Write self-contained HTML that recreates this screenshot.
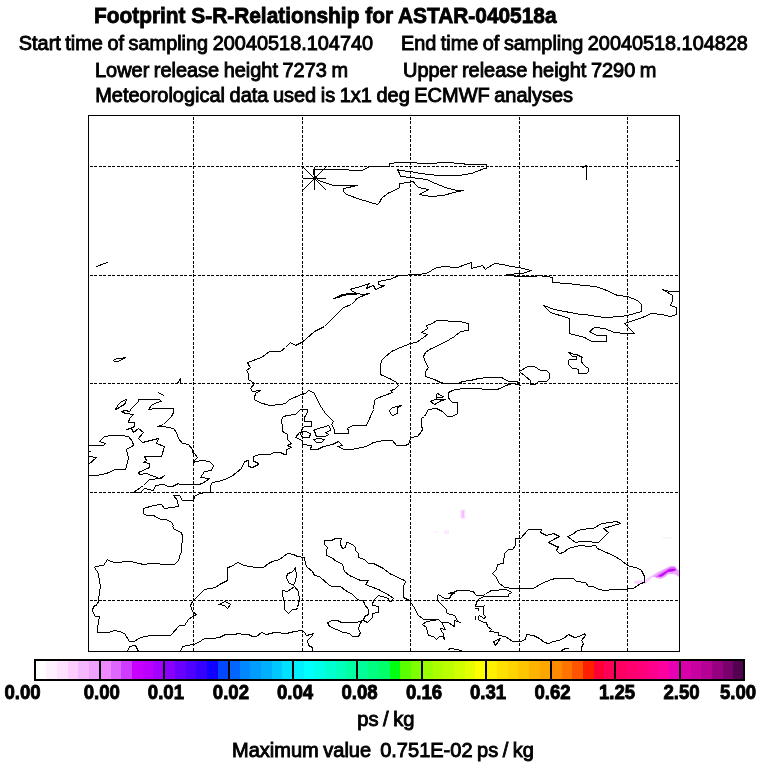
<!DOCTYPE html>
<html><head><meta charset="utf-8"><style>
html,body{margin:0;padding:0;background:#fff;width:768px;height:768px;overflow:hidden}
svg{display:block}
text{font-family:"Liberation Sans",Arial,sans-serif;fill:#000}
</style></head><body>
<svg width="768" height="768" viewBox="0 0 768 768">
<rect width="768" height="768" fill="#fff"/>
<g font-size="21.4" font-weight="bold" stroke="#000" stroke-width="0.8"><text x="94" y="23" textLength="462.5" lengthAdjust="spacingAndGlyphs">Footprint S-R-Relationship for ASTAR-040518a</text></g>
<g font-size="20" stroke="#000" stroke-width="0.9" word-spacing="-1">
<text x="18.8" y="49.8" textLength="354.3" lengthAdjust="spacingAndGlyphs">Start time of sampling 20040518.104740</text>
<text x="401" y="49.8" textLength="346.8" lengthAdjust="spacingAndGlyphs">End time of sampling 20040518.104828</text>
<text x="95" y="76.6" textLength="253" lengthAdjust="spacingAndGlyphs">Lower release height 7273 m</text>
<text x="403" y="76.6" textLength="253.5" lengthAdjust="spacingAndGlyphs">Upper release height 7290 m</text>
<text x="95.2" y="101.6" textLength="477.8" lengthAdjust="spacingAndGlyphs">Meteorological data used is 1x1 deg ECMWF analyses</text>
</g>
<!-- footprint -->
<defs><filter id="bl" x="-20%" y="-50%" width="140%" height="200%"><feGaussianBlur stdDeviation="0.55"/></filter></defs>
<g id="fp" filter="url(#bl)">
<rect x="460.5" y="509.5" width="5" height="9.5" fill="#FBE2FF"/>
<rect x="461.5" y="510.5" width="2.5" height="7" fill="#F6BEFF"/>
<rect x="433.5" y="531.5" width="4" height="1.5" fill="#FDEBFF"/>
<rect x="444" y="530.5" width="5" height="3.5" fill="#FDE8FF"/>
<rect x="662" y="537.5" width="11" height="1.2" fill="#FDEEFF"/>
<path d="M634,581 L640,580.2 L644.5,580.8 L651,575.5 L653.5,576.5 L646,583.5 L640,584.2 L634,583.6 Z" fill="#F9D3FF"/>
<path d="M651.5,576.3 L657.3,572.4 L662.5,569.8 L667.8,567.2 L671.7,565.8 L675,566.2 L677,569 L679,570.5 L679,577 L675.6,574.5 L671.7,574 L667.8,574.5 L665.2,577 L661.25,578.8 L657.3,578.5 L654.7,577.2 Z" fill="#EDA8FF"/>
<path d="M655.5,576.8 L660,573.5 L666,570 L671,567.3 L675,567.3 L676.8,570 L673,571.8 L668,572.2 L665,574.8 L661,577.3 Z" fill="#DA5CFF"/>
<path d="M658,576.3 L662,574 L666.5,571.2 L668.5,569.4 L674,568.8 L676,570.3 L672,571.2 L668,571.7 L665,573.9 L661.5,576.4 Z" fill="#C000F2"/>
</g>
<g fill="none" stroke="#000" stroke-width="1" stroke-dasharray="3 1.5" shape-rendering="crispEdges">
<line x1="193.5" y1="116.5" x2="193.5" y2="651"/>
<line x1="302.5" y1="116.5" x2="302.5" y2="651"/>
<line x1="410.5" y1="116.5" x2="410.5" y2="651"/>
<line x1="519.5" y1="116.5" x2="519.5" y2="651"/>
<line x1="627.5" y1="116.5" x2="627.5" y2="651"/>
<line x1="89.5" y1="166.5" x2="679" y2="166.5"/>
<line x1="89.5" y1="275.5" x2="679" y2="275.5"/>
<line x1="89.5" y1="383.5" x2="679" y2="383.5"/>
<line x1="89.5" y1="492.5" x2="679" y2="492.5"/>
<line x1="89.5" y1="600.5" x2="679" y2="600.5"/>
</g>
<g fill="none" stroke="#000" stroke-width="1" stroke-linejoin="round" stroke-linecap="round" shape-rendering="crispEdges">
<path d="M313.5,174.5 L313.5,169.5 L343.5,169.5 L353.5,170.5 L362.5,170.5 L369.5,166.5 L389.5,166.5 L389.5,163.5 L399.5,162.5 L414.5,162.5 L419.5,163.5 L431.5,163.5 L443.5,162.5 L463.5,163.5 L465.5,164.5 L484.5,164.5 L486.5,164.5 L486.5,168.5 L484.5,168.5 L471.5,173.5 L458.5,175.5 L438.5,175.5 L420.5,173.5 L410.5,171.5 L399.5,170.5 L397.5,169.5 L399.5,173.5 L400.5,176.5 L410.5,177.5 L426.5,179.5 L435.5,183.5 L445.5,187.5 L456.5,190.5 L463.5,190.5 L453.5,192.5 L443.5,195.5 L430.5,196.5 L419.5,194.5 L428.5,189.5 L418.5,187.5 L414.5,183.5 L413.5,181.5 L408.5,182.5 L399.5,183.5 L399.5,187.5 L396.5,189.5 L387.5,193.5 L381.5,198.5 L379.5,202.5 L377.5,204.5 L360.5,199.5 L346.5,194.5 L343.5,191.5 L343.5,188.5 L357.5,185.5 L333.5,185.5 L318.5,180.5 Z"/>
<path d="M582.5,167.5 L586.5,165.5 L586.5,179.5"/>
<path d="M676.5,160.5 L679.5,160.5"/>
<path d="M96.5,266.5 L107.5,262.5"/>
<path d="M113.5,360.5 L116.5,358.5 L121.5,358.5 L125.5,357.5 L121.5,359.5 L118.5,361.5 L114.5,361.5 Z"/>
<path d="M177.5,383.5 L180.5,378.5 L180.5,383.5"/>
<path d="M158.5,392.5 L163.5,395.5"/>
<path d="M115.5,409.5 L118.5,404.5 L121.5,401.5 L126.5,399.5 L125.5,402.5 L124.5,404.5 L120.5,406.5 L116.5,409.5 Z"/>
<path d="M138.5,399.5 L159.5,399.5 L161.5,401.5 L156.5,402.5 L151.5,405.5 L148.5,409.5 L155.5,408.5 L173.5,408.5 L173.5,412.5 L171.5,416.5 L168.5,419.5 L163.5,424.5 L157.5,426.5 L163.5,426.5 L173.5,428.5 L176.5,432.5 L178.5,438.5 L182.5,443.5 L188.5,444.5 L192.5,449.5 L192.5,452.5 L194.5,453.5 L197.5,457.5 L194.5,460.5 L193.5,462.5 L196.5,461.5 L202.5,460.5 L209.5,461.5 L213.5,465.5 L211.5,470.5 L204.5,471.5 L200.5,477.5 L209.5,478.5 L202.5,483.5 L198.5,484.5 L179.5,484.5 L178.5,483.5 L172.5,486.5 L168.5,486.5 L163.5,484.5 L155.5,485.5 L153.5,490.5 L144.5,488.5 L140.5,492.5 L133.5,492.5 L143.5,485.5 L149.5,479.5 L161.5,478.5 L164.5,475.5 L159.5,478.5 L146.5,473.5 L139.5,474.5 L138.5,472.5 L149.5,467.5 L149.5,463.5 L143.5,462.5 L146.5,460.5 L144.5,456.5 L161.5,456.5 L164.5,446.5 L156.5,443.5 L158.5,438.5 L150.5,440.5 L142.5,442.5 L138.5,438.5 L143.5,432.5 L138.5,428.5 L133.5,432.5 L131.5,428.5 L126.5,429.5 L130.5,428.5 L134.5,426.5 L134.5,422.5 L128.5,422.5 L129.5,418.5 L133.5,414.5 L125.5,413.5 L121.5,411.5 L125.5,410.5 L129.5,411.5 L131.5,408.5 L135.5,404.5 L138.5,401.5 Z"/>
<path d="M88.5,475.5 L96.5,475.5 L106.5,473.5 L115.5,469.5 L125.5,469.5 L128.5,458.5 L126.5,449.5 L133.5,445.5 L132.5,441.5 L128.5,436.5 L120.5,435.5 L112.5,435.5 L104.5,436.5 L99.5,441.5 L105.5,443.5 L103.5,445.5 L88.5,445.5"/>
<path d="M88.5,451.5 L90.5,451.5"/>
<path d="M88.5,456.5 L96.5,457.5 L88.5,464.5"/>
<path d="M307.5,409.5 L300.5,409.5 L298.5,411.5 L295.5,414.5 L287.5,415.5 L283.5,416.5 L281.5,419.5 L281.5,421.5 L282.5,426.5 L282.5,431.5 L284.5,432.5 L287.5,434.5 L287.5,439.5 L291.5,443.5 L287.5,445.5 L291.5,447.5 L286.5,449.5 L286.5,454.5 L284.5,454.5 L280.5,452.5 L273.5,452.5 L270.5,454.5 L264.5,454.5 L259.5,454.5 L253.5,456.5 L253.5,461.5 L257.5,462.5 L258.5,464.5 L252.5,467.5 L248.5,466.5 L248.5,460.5 L244.5,461.5 L241.5,468.5 L231.5,476.5 L224.5,479.5 L218.5,481.5 L212.5,482.5 L210.5,485.5 L210.5,492.5 L204.5,492.5 L200.5,493.5 L195.5,495.5 L194.5,496.5 L193.5,500.5 L187.5,500.5 L182.5,500.5 L179.5,495.5 L173.5,495.5 L177.5,500.5 L178.5,506.5 L172.5,507.5 L164.5,508.5 L161.5,504.5 L153.5,505.5 L143.5,508.5 L143.5,513.5 L146.5,515.5 L153.5,515.5 L160.5,519.5 L166.5,519.5 L171.5,522.5 L173.5,525.5 L172.5,526.5 L174.5,529.5 L181.5,532.5 L182.5,536.5 L182.5,540.5 L181.5,546.5 L181.5,552.5 L180.5,553.5 L178.5,560.5 L174.5,564.5 L164.5,564.5 L155.5,563.5 L150.5,563.5 L143.5,564.5 L139.5,563.5 L130.5,561.5 L114.5,562.5 L108.5,560.5 L107.5,559.5 L103.5,565.5 L95.5,566.5 L94.5,567.5 L98.5,573.5 L98.5,575.5 L100.5,586.5 L99.5,592.5 L98.5,600.5 L97.5,604.5 L93.5,606.5 L92.5,610.5 L93.5,613.5 L95.5,616.5 L99.5,616.5 L98.5,621.5 L97.5,628.5 L97.5,632.5 L103.5,632.5 L108.5,632.5 L114.5,630.5 L119.5,631.5 L124.5,633.5 L129.5,641.5 L134.5,641.5 L138.5,638.5 L144.5,636.5 L151.5,635.5 L170.5,635.5 L179.5,625.5 L184.5,625.5 L188.5,619.5 L192.5,616.5 L196.5,614.5 L192.5,611.5 L191.5,608.5 L190.5,605.5 L192.5,601.5 L194.5,599.5 L204.5,589.5 L215.5,587.5 L219.5,584.5 L227.5,580.5 L227.5,567.5 L231.5,566.5 L237.5,562.5 L244.5,565.5 L255.5,567.5 L263.5,567.5 L268.5,563.5 L272.5,561.5 L279.5,559.5 L287.5,553.5 L293.5,554.5 L297.5,556.5 L304.5,557.5 L305.5,564.5 L307.5,567.5 L312.5,571.5 L314.5,575.5 L319.5,576.5 L329.5,585.5 L332.5,586.5 L340.5,586.5 L345.5,590.5 L352.5,594.5 L356.5,598.5 L359.5,600.5 L363.5,600.5 L364.5,604.5 L368.5,609.5 L368.5,614.5 L364.5,616.5 L363.5,620.5 L367.5,622.5 L372.5,617.5 L372.5,613.5 L378.5,612.5 L378.5,606.5 L372.5,605.5 L372.5,604.5 L373.5,600.5 L378.5,595.5 L385.5,597.5 L388.5,598.5 L389.5,601.5 L391.5,601.5 L393.5,598.5 L389.5,595.5 L378.5,589.5 L370.5,586.5 L365.5,584.5 L368.5,580.5 L360.5,580.5 L349.5,575.5 L344.5,571.5 L342.5,564.5 L341.5,563.5 L336.5,561.5 L331.5,557.5 L326.5,555.5 L326.5,550.5 L327.5,547.5 L324.5,544.5 L324.5,540.5 L331.5,540.5 L335.5,538.5 L341.5,538.5 L340.5,541.5 L340.5,544.5 L342.5,548.5 L345.5,547.5 L346.5,542.5 L348.5,542.5 L353.5,545.5 L355.5,547.5 L355.5,550.5 L358.5,553.5 L358.5,557.5 L364.5,559.5 L368.5,563.5 L373.5,563.5 L383.5,568.5 L389.5,573.5 L404.5,580.5 L405.5,581.5 L403.5,586.5 L403.5,597.5 L407.5,599.5 L409.5,600.5 L413.5,606.5 L416.5,611.5 L417.5,614.5 L423.5,619.5 L428.5,619.5 L438.5,619.5 L441.5,622.5 L448.5,622.5 L452.5,625.5 L454.5,626.5 L454.5,620.5 L457.5,621.5 L460.5,622.5 L457.5,621.5 L455.5,616.5 L454.5,615.5 L447.5,613.5 L446.5,612.5 L446.5,609.5 L437.5,600.5 L437.5,595.5 L438.5,594.5 L444.5,598.5 L449.5,598.5 L451.5,594.5 L454.5,593.5 L448.5,593.5 L456.5,591.5 L456.5,590.5 L466.5,590.5 L473.5,591.5 L474.5,593.5 L476.5,595.5 L478.5,595.5 L482.5,595.5 L485.5,594.5 L486.5,593.5 L489.5,591.5 L491.5,590.5 L498.5,590.5 L499.5,589.5 L502.5,589.5 L506.5,589.5 L511.5,592.5 L508.5,594.5 L508.5,596.5 L502.5,596.5 L484.5,596.5 L481.5,597.5 L478.5,599.5 L477.5,600.5 L476.5,602.5 L476.5,604.5 L475.5,604.5 L475.5,606.5 L483.5,606.5 L484.5,605.5 L483.5,606.5 L483.5,614.5 L485.5,616.5 L485.5,617.5 L483.5,618.5 L482.5,617.5 L479.5,615.5 L478.5,616.5 L478.5,619.5 L479.5,620.5 L484.5,622.5 L486.5,622.5 L487.5,626.5 L491.5,629.5 L489.5,631.5 L498.5,632.5 L498.5,635.5 L505.5,636.5 L512.5,641.5 L520.5,641.5 L525.5,639.5 L526.5,634.5 L533.5,635.5 L539.5,638.5 L544.5,642.5 L548.5,643.5 L553.5,641.5 L558.5,640.5 L563.5,638.5 L568.5,634.5 L574.5,637.5 L579.5,636.5 L584.5,633.5 L585.5,635.5 L581.5,640.5 L583.5,643.5 L581.5,647.5 L581.5,651.5"/>
<path d="M441.5,622.5 L442.5,623.5 L443.5,626.5 L445.5,629.5 L440.5,628.5 L441.5,631.5 L443.5,633.5 L444.5,639.5 L442.5,636.5 L439.5,636.5 L436.5,639.5 L433.5,636.5 L428.5,635.5 L427.5,632.5 L426.5,627.5 L422.5,624.5 L426.5,621.5 L433.5,620.5 L438.5,619.5"/>
<path d="M307.5,409.5 L307.5,412.5 L304.5,417.5 L304.5,421.5 L311.5,421.5 L311.5,426.5 L304.5,426.5 L302.5,428.5 L300.5,431.5 L295.5,437.5 L302.5,440.5 L302.5,444.5 L311.5,445.5 L310.5,449.5 L317.5,449.5 L323.5,446.5 L332.5,444.5 L338.5,441.5 L342.5,445.5 L337.5,446.5 L344.5,449.5 L351.5,449.5 L366.5,446.5 L373.5,442.5 L383.5,440.5 L392.5,440.5 L396.5,445.5 L404.5,445.5 L408.5,444.5 L410.5,438.5 L411.5,437.5 L417.5,436.5 L421.5,431.5 L422.5,429.5 L421.5,425.5 L421.5,418.5 L424.5,416.5 L428.5,409.5 L436.5,408.5 L442.5,411.5 L447.5,416.5 L452.5,416.5 L457.5,413.5 L457.5,402.5 L452.5,402.5 L449.5,399.5 L448.5,397.5 L448.5,392.5 L452.5,390.5 L455.5,389.5 L464.5,388.5 L474.5,388.5 L488.5,389.5 L497.5,389.5 L508.5,384.5 L513.5,383.5 L520.5,385.5 L518.5,382.5 L516.5,381.5 L508.5,381.5 L501.5,377.5 L488.5,377.5 L478.5,378.5 L470.5,380.5 L462.5,381.5 L458.5,383.5 L444.5,383.5 L440.5,382.5 L434.5,379.5 L425.5,376.5 L425.5,371.5 L428.5,367.5 L425.5,362.5 L423.5,356.5 L425.5,352.5 L429.5,349.5 L444.5,342.5 L454.5,336.5 L460.5,331.5 L467.5,330.5 L468.5,330.5 L468.5,323.5 L459.5,321.5 L436.5,320.5 L432.5,323.5 L426.5,325.5 L427.5,328.5 L421.5,332.5 L427.5,334.5 L416.5,342.5 L410.5,343.5 L400.5,347.5 L391.5,351.5 L384.5,357.5 L381.5,360.5 L380.5,365.5 L380.5,374.5 L391.5,379.5 L396.5,382.5 L398.5,385.5 L394.5,389.5 L390.5,390.5 L392.5,392.5 L384.5,395.5 L376.5,398.5 L374.5,400.5 L373.5,409.5 L366.5,425.5 L352.5,425.5 L347.5,428.5 L348.5,430.5 L348.5,433.5 L336.5,433.5 L334.5,433.5 L334.5,429.5 L331.5,424.5 L333.5,421.5 L325.5,413.5 L319.5,404.5 L316.5,397.5 L313.5,392.5 L308.5,390.5 L305.5,393.5 L301.5,394.5 L289.5,399.5 L285.5,403.5 L280.5,404.5 L269.5,405.5 L259.5,402.5 L254.5,399.5 L254.5,397.5 L255.5,393.5 L260.5,390.5 L252.5,391.5 L250.5,388.5 L254.5,383.5 L248.5,379.5 L248.5,373.5 L246.5,370.5 L250.5,367.5 L249.5,366.5 L247.5,362.5 L261.5,357.5 L269.5,351.5 L280.5,351.5 L285.5,347.5 L290.5,342.5 L295.5,345.5 L301.5,342.5 L305.5,339.5 L314.5,331.5 L324.5,326.5 L333.5,317.5 L343.5,307.5 L351.5,304.5 L355.5,300.5 L356.5,298.5 L361.5,296.5 L365.5,294.5 L369.5,293.5 L363.5,294.5 L355.5,293.5 L355.5,292.5 L352.5,291.5 L350.5,289.5 L352.5,288.5 L357.5,287.5 L363.5,285.5 L369.5,283.5 L367.5,285.5 L366.5,288.5 L370.5,286.5 L373.5,285.5 L374.5,287.5 L375.5,289.5 L380.5,287.5 L384.5,285.5 L381.5,285.5 L378.5,284.5 L378.5,281.5 L383.5,280.5 L389.5,279.5 L394.5,277.5 L398.5,275.5 L418.5,274.5 L426.5,273.5 L436.5,267.5 L446.5,266.5 L452.5,267.5 L457.5,267.5 L465.5,264.5 L471.5,262.5 L471.5,268.5 L482.5,265.5 L485.5,269.5 L486.5,268.5 L494.5,263.5 L502.5,264.5 L511.5,266.5 L518.5,267.5 L531.5,270.5 L522.5,273.5 L506.5,274.5 L507.5,275.5 L519.5,276.5 L536.5,276.5 L536.5,275.5 L547.5,276.5 L552.5,277.5 L552.5,282.5 L567.5,283.5 L584.5,285.5 L595.5,286.5 L604.5,289.5 L617.5,295.5 L627.5,296.5 L637.5,300.5 L641.5,304.5 L641.5,311.5 L627.5,315.5 L621.5,316.5 L604.5,317.5 L596.5,316.5 L584.5,314.5 L580.5,314.5 L554.5,309.5 L543.5,305.5 L550.5,312.5 L569.5,318.5 L569.5,333.5 L584.5,337.5 L591.5,341.5 L606.5,341.5 L606.5,335.5 L596.5,335.5 L589.5,331.5 L594.5,327.5 L604.5,328.5 L614.5,332.5 L624.5,333.5 L634.5,333.5 L624.5,323.5 L642.5,317.5 L651.5,313.5 L661.5,314.5 L670.5,316.5 L676.5,314.5 L676.5,307.5 L670.5,305.5 L672.5,300.5 L672.5,295.5 L664.5,290.5 L662.5,289.5 L669.5,291.5 L679.5,291.5"/>
<path d="M355.5,293.5 L350.5,293.5 L342.5,294.5 L338.5,296.5 L333.5,298.5 L338.5,297.5 L342.5,295.5 L350.5,294.5 L356.5,294.5"/>
<path d="M519.5,371.5 L527.5,366.5 L534.5,366.5 L540.5,370.5 L546.5,370.5 L549.5,373.5 L549.5,378.5 L546.5,381.5 L538.5,381.5 L535.5,384.5 L530.5,384.5 L530.5,380.5 L525.5,376.5 Z"/>
<path d="M568.5,352.5 L572.5,353.5 L573.5,354.5 L576.5,354.5 L578.5,355.5 L580.5,356.5 L582.5,357.5 L581.5,357.5 L581.5,361.5 L582.5,363.5 L585.5,366.5 L588.5,368.5 L588.5,371.5 L586.5,373.5 L578.5,373.5 L578.5,369.5 L575.5,368.5 L572.5,368.5 L568.5,364.5 L568.5,360.5 L569.5,359.5 L576.5,359.5 L576.5,356.5 L572.5,356.5 L568.5,352.5"/>
<path d="M389.5,410.5 L392.5,407.5 L397.5,406.5 L401.5,405.5 L397.5,407.5 L397.5,413.5 L392.5,415.5 L390.5,413.5 Z"/>
<path d="M430.5,401.5 L432.5,400.5 L435.5,399.5 L445.5,399.5 L441.5,400.5 L439.5,401.5 L436.5,403.5 L434.5,404.5 Z"/>
<path d="M445.5,399.5 L436.5,399.5"/>
<path d="M436.5,398.5 L436.5,394.5 L437.5,393.5 L439.5,394.5 L442.5,396.5 L443.5,396.5 L442.5,397.5 L437.5,397.5"/>
<path d="M300.5,432.5 L302.5,431.5 L305.5,431.5 L310.5,433.5 L309.5,437.5 L302.5,437.5 L300.5,434.5 Z"/>
<path d="M313.5,430.5 L315.5,429.5 L328.5,425.5 L330.5,428.5 L330.5,430.5 L325.5,432.5 L328.5,434.5 L325.5,436.5 L316.5,436.5 L315.5,434.5 L314.5,430.5 Z"/>
<path d="M313.5,439.5 L319.5,438.5 L324.5,439.5 L321.5,442.5 L316.5,442.5 Z"/>
<path d="M295.5,567.5 L293.5,570.5 L291.5,572.5 L287.5,573.5 L286.5,577.5 L288.5,582.5 L293.5,585.5 L295.5,580.5 L296.5,575.5 Z"/>
<path d="M294.5,586.5 L298.5,591.5 L299.5,599.5 L297.5,607.5 L296.5,609.5 L292.5,609.5 L288.5,613.5 L284.5,609.5 L284.5,602.5 L282.5,595.5 L282.5,590.5 L287.5,591.5 Z"/>
<path d="M218.5,604.5 L225.5,601.5 L230.5,604.5 L227.5,608.5 L224.5,605.5 Z"/>
<path d="M327.5,622.5 L332.5,620.5 L337.5,620.5 L341.5,622.5 L356.5,622.5 L362.5,620.5 L359.5,624.5 L358.5,629.5 L360.5,632.5 L358.5,636.5 L352.5,636.5 L349.5,633.5 L343.5,632.5 L336.5,629.5 L329.5,626.5 Z"/>
<path d="M127.5,651.5 L129.5,646.5 L135.5,645.5 L138.5,651.5"/>
<path d="M180.5,651.5 L182.5,646.5 L187.5,645.5 L193.5,644.5 L198.5,642.5 L204.5,638.5 L212.5,638.5 L219.5,637.5 L225.5,634.5 L234.5,634.5 L238.5,633.5 L243.5,634.5 L248.5,634.5 L252.5,636.5 L256.5,636.5 L261.5,632.5 L266.5,634.5 L274.5,632.5 L286.5,633.5 L294.5,631.5 L302.5,630.5 L304.5,632.5 L306.5,635.5 L310.5,634.5 L313.5,633.5 L311.5,636.5 L307.5,640.5 L308.5,645.5 L312.5,647.5 L312.5,651.5"/>
<path d="M448.5,649.5 L450.5,648.5 L456.5,649.5 L461.5,650.5"/>
<path d="M561.5,650.5 L565.5,648.5 L568.5,648.5"/>
<path d="M475.5,608.5 L478.5,608.5 L478.5,610.5"/>
<path d="M475.5,616.5 L475.5,619.5"/>
<path d="M493.5,641.5 L500.5,638.5 L495.5,645.5 Z"/>
<path d="M520.5,538.5 L515.5,538.5 L515.5,545.5 L512.5,549.5 L508.5,549.5 L504.5,553.5 L503.5,563.5 L497.5,564.5 L496.5,569.5 L492.5,573.5 L496.5,577.5 L498.5,582.5 L504.5,587.5 L512.5,588.5 L525.5,588.5 L533.5,588.5 L541.5,583.5 L551.5,579.5 L555.5,578.5 L573.5,578.5 L576.5,581.5 L585.5,582.5 L588.5,586.5 L593.5,586.5 L598.5,589.5 L605.5,590.5 L613.5,589.5 L620.5,589.5 L633.5,588.5 L640.5,583.5 L644.5,582.5 L644.5,576.5 L641.5,570.5 L638.5,568.5 L627.5,565.5 L621.5,560.5 L613.5,555.5 L608.5,553.5 L597.5,548.5 L595.5,545.5 L588.5,546.5 L580.5,545.5 L575.5,546.5 L568.5,548.5 L563.5,552.5 L559.5,553.5 L556.5,550.5 L558.5,546.5 L556.5,546.5 L548.5,542.5 L555.5,538.5 L559.5,536.5 L553.5,533.5 L546.5,535.5 L540.5,532.5 L541.5,529.5 L528.5,529.5 Z"/>
<path d="M567.5,536.5 L572.5,534.5 L577.5,530.5 L588.5,528.5 L593.5,528.5 L601.5,523.5 L610.5,522.5 L616.5,521.5 L620.5,523.5 L613.5,525.5 L603.5,528.5 L608.5,532.5 L598.5,542.5 L595.5,542.5 L588.5,541.5 L580.5,541.5 L575.5,542.5 Z"/>
<path d="M303,178.5 H326 M314.5,167 V190 M303,167 L326,190 M303,190 L326,167"/>
</g>
<rect x="88.5" y="115.5" width="591.0" height="536.0" fill="none" stroke="#000" stroke-width="1"/>
<g shape-rendering="crispEdges"><rect x="35" y="660.0" width="11" height="20.0" fill="#FFFFFF"/><rect x="46" y="660.0" width="11" height="20.0" fill="#FFF0FF"/><rect x="57" y="660.0" width="11" height="20.0" fill="#FFE0FF"/><rect x="68" y="660.0" width="10" height="20.0" fill="#FFCCFF"/><rect x="78" y="660.0" width="11" height="20.0" fill="#F5B8FF"/><rect x="89" y="660.0" width="11" height="20.0" fill="#F0A0FF"/><rect x="100" y="660.0" width="11" height="20.0" fill="#EE88FF"/><rect x="111" y="660.0" width="10" height="20.0" fill="#DD66FF"/><rect x="121" y="660.0" width="11" height="20.0" fill="#D03CFF"/><rect x="132" y="660.0" width="11" height="20.0" fill="#C800FF"/><rect x="143" y="660.0" width="10" height="20.0" fill="#BB00FF"/><rect x="153" y="660.0" width="11" height="20.0" fill="#A400FF"/><rect x="164" y="660.0" width="11" height="20.0" fill="#8A00FF"/><rect x="175" y="660.0" width="11" height="20.0" fill="#6A00FF"/><rect x="186" y="660.0" width="10" height="20.0" fill="#5000FF"/><rect x="196" y="660.0" width="11" height="20.0" fill="#3500FF"/><rect x="207" y="660.0" width="11" height="20.0" fill="#1000FF"/><rect x="218" y="660.0" width="11" height="20.0" fill="#0048FF"/><rect x="229" y="660.0" width="11" height="20.0" fill="#0066FF"/><rect x="240" y="660.0" width="10" height="20.0" fill="#0088FF"/><rect x="250" y="660.0" width="11" height="20.0" fill="#009DFF"/><rect x="261" y="660.0" width="11" height="20.0" fill="#00B0FF"/><rect x="272" y="660.0" width="10" height="20.0" fill="#00C8FF"/><rect x="282" y="660.0" width="11" height="20.0" fill="#00E0FF"/><rect x="293" y="660.0" width="11" height="20.0" fill="#00F0FF"/><rect x="304" y="660.0" width="10" height="20.0" fill="#00FFFF"/><rect x="314" y="660.0" width="11" height="20.0" fill="#00FFE8"/><rect x="325" y="660.0" width="11" height="20.0" fill="#00FFD0"/><rect x="336" y="660.0" width="10" height="20.0" fill="#00FFBB"/><rect x="346" y="660.0" width="11" height="20.0" fill="#00FFA0"/><rect x="357" y="660.0" width="11" height="20.0" fill="#00FF98"/><rect x="368" y="660.0" width="11" height="20.0" fill="#00FF80"/><rect x="379" y="660.0" width="11" height="20.0" fill="#00FF68"/><rect x="390" y="660.0" width="10" height="20.0" fill="#00FF10"/><rect x="400" y="660.0" width="11" height="20.0" fill="#5AFF00"/><rect x="411" y="660.0" width="11" height="20.0" fill="#80FF00"/><rect x="422" y="660.0" width="11" height="20.0" fill="#9AFF00"/><rect x="433" y="660.0" width="10" height="20.0" fill="#ABFF00"/><rect x="443" y="660.0" width="11" height="20.0" fill="#BCFF00"/><rect x="454" y="660.0" width="11" height="20.0" fill="#D0FF00"/><rect x="465" y="660.0" width="10" height="20.0" fill="#E5FF00"/><rect x="475" y="660.0" width="11" height="20.0" fill="#FFFF00"/><rect x="486" y="660.0" width="11" height="20.0" fill="#FFF000"/><rect x="497" y="660.0" width="11" height="20.0" fill="#FFE000"/><rect x="508" y="660.0" width="10" height="20.0" fill="#FFD400"/><rect x="518" y="660.0" width="11" height="20.0" fill="#FFC600"/><rect x="529" y="660.0" width="11" height="20.0" fill="#FFB500"/><rect x="540" y="660.0" width="11" height="20.0" fill="#FFA500"/><rect x="551" y="660.0" width="11" height="20.0" fill="#FF8A00"/><rect x="562" y="660.0" width="10" height="20.0" fill="#FF7400"/><rect x="572" y="660.0" width="11" height="20.0" fill="#FF5500"/><rect x="583" y="660.0" width="11" height="20.0" fill="#FF2000"/><rect x="594" y="660.0" width="10" height="20.0" fill="#FF0036"/><rect x="604" y="660.0" width="11" height="20.0" fill="#FF0058"/><rect x="615" y="660.0" width="11" height="20.0" fill="#FF0062"/><rect x="626" y="660.0" width="11" height="20.0" fill="#FF006E"/><rect x="637" y="660.0" width="11" height="20.0" fill="#FF007A"/><rect x="648" y="660.0" width="10" height="20.0" fill="#FF008C"/><rect x="658" y="660.0" width="11" height="20.0" fill="#FF00A0"/><rect x="669" y="660.0" width="11" height="20.0" fill="#E800B4"/><rect x="680" y="660.0" width="11" height="20.0" fill="#D800A8"/><rect x="691" y="660.0" width="10" height="20.0" fill="#C800A0"/><rect x="701" y="660.0" width="11" height="20.0" fill="#B40094"/><rect x="712" y="660.0" width="11" height="20.0" fill="#960080"/><rect x="723" y="660.0" width="10" height="20.0" fill="#7A006E"/><rect x="733" y="660.0" width="11" height="20.0" fill="#520050"/></g>
<g stroke="#000" stroke-width="2" shape-rendering="crispEdges"><line x1="100" y1="660.0" x2="100" y2="680.0"/><line x1="164" y1="660.0" x2="164" y2="680.0"/><line x1="229" y1="660.0" x2="229" y2="680.0"/><line x1="293" y1="660.0" x2="293" y2="680.0"/><line x1="357" y1="660.0" x2="357" y2="680.0"/><line x1="422" y1="660.0" x2="422" y2="680.0"/><line x1="486" y1="660.0" x2="486" y2="680.0"/><line x1="551" y1="660.0" x2="551" y2="680.0"/><line x1="615" y1="660.0" x2="615" y2="680.0"/><line x1="680" y1="660.0" x2="680" y2="680.0"/></g>
<rect x="35.0" y="660.0" width="709.0" height="20.0" fill="none" stroke="#000" stroke-width="2"/>
<g font-size="19.3" font-weight="bold" stroke="#000" stroke-width="0.85">
<text x="4.4" y="699.2" textLength="36.2" lengthAdjust="spacingAndGlyphs">0.00</text>
<text x="83.7" y="699.2" textLength="36.2" lengthAdjust="spacingAndGlyphs">0.00</text>
<text x="147.8" y="699.2" textLength="36.2" lengthAdjust="spacingAndGlyphs">0.01</text>
<text x="212.8" y="699.2" textLength="36.2" lengthAdjust="spacingAndGlyphs">0.02</text>
<text x="276.9" y="699.2" textLength="36.2" lengthAdjust="spacingAndGlyphs">0.04</text>
<text x="341.4" y="699.2" textLength="36.2" lengthAdjust="spacingAndGlyphs">0.08</text>
<text x="405.9" y="699.2" textLength="36.2" lengthAdjust="spacingAndGlyphs">0.16</text>
<text x="469.9" y="699.2" textLength="36.2" lengthAdjust="spacingAndGlyphs">0.31</text>
<text x="534.4" y="699.2" textLength="36.2" lengthAdjust="spacingAndGlyphs">0.62</text>
<text x="598.9" y="699.2" textLength="36.2" lengthAdjust="spacingAndGlyphs">1.25</text>
<text x="663.4" y="699.2" textLength="36.2" lengthAdjust="spacingAndGlyphs">2.50</text>
<text x="719.9" y="699.2" textLength="36.2" lengthAdjust="spacingAndGlyphs">5.00</text>
</g>
<g font-size="20" stroke="#000" stroke-width="0.9" word-spacing="-1">
<text x="357.2" y="726" textLength="57.3" lengthAdjust="spacingAndGlyphs">ps / kg</text>
<text x="232" y="757" xml:space="preserve" textLength="302" lengthAdjust="spacingAndGlyphs">Maximum value  0.751E-02 ps / kg</text>
</g>
</svg>
</body></html>
